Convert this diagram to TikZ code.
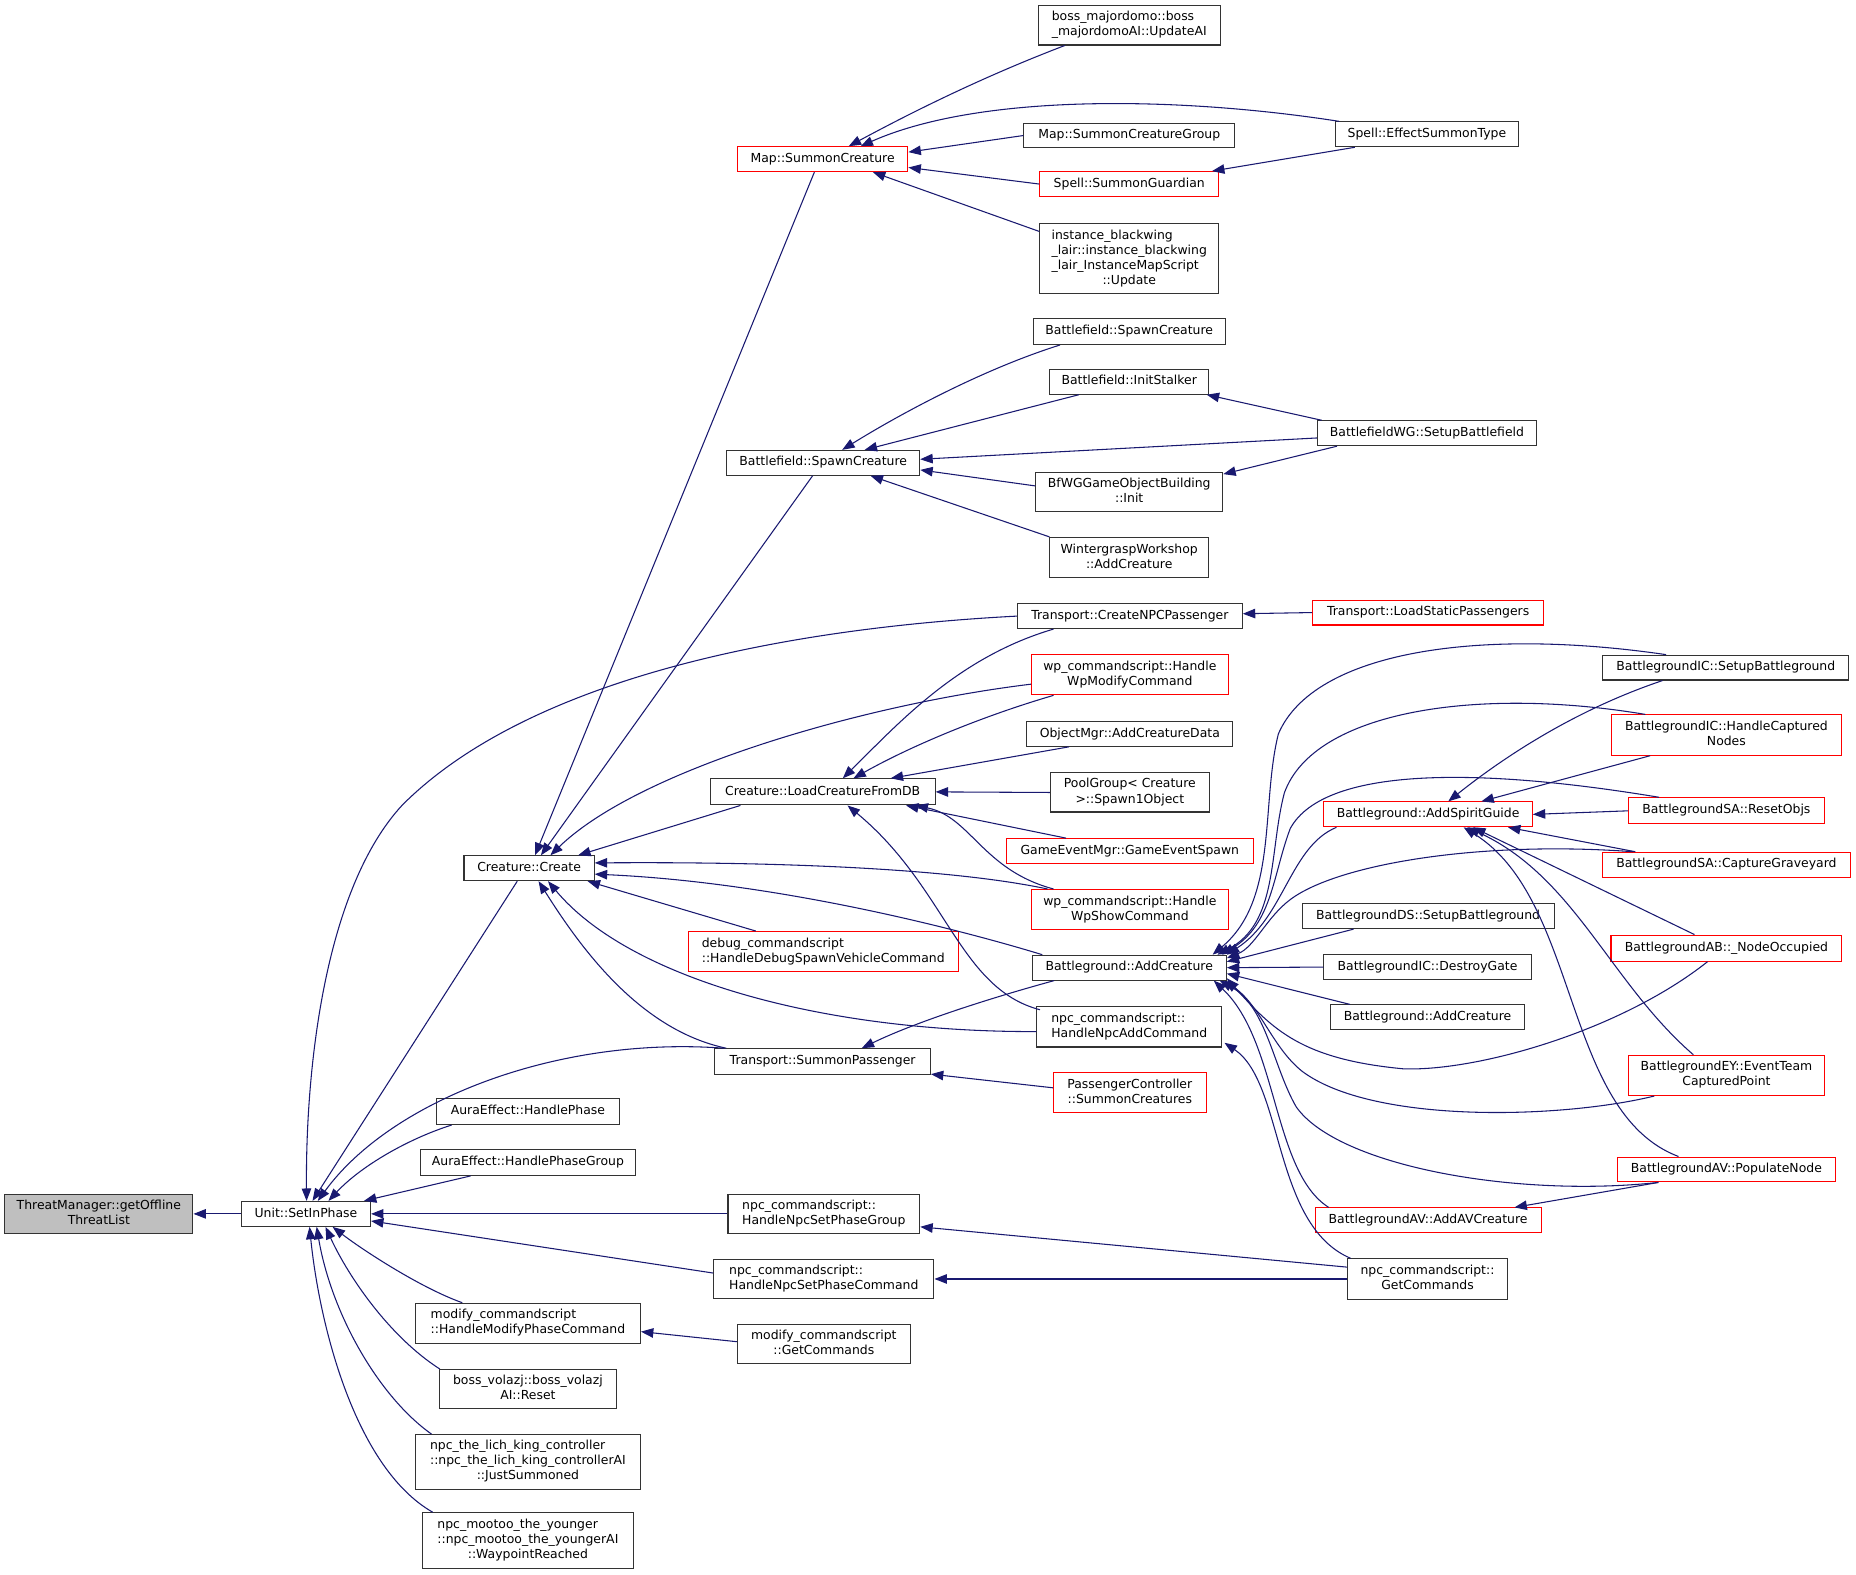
\documentclass[tikz,border=0pt]{standalone}
\usepackage{fontspec}
\setmainfont{DejaVu Sans}
\usetikzlibrary{arrows.meta,calc}
\definecolor{eb}{HTML}{191970}
\definecolor{rootgray}{HTML}{BFBFBF}
\definecolor{bord}{HTML}{333333}
\newcommand{\ml}[2]{\begin{tabular}{@{}l@{}}#1\\\multicolumn{1}{@{}c@{}}{#2}\end{tabular}}
\tikzset{
  bx/.style={draw=bord, line width=0.9pt, fill=white, inner xsep=3pt, inner ysep=2.5pt,
             font=\fontsize{10.5}{12.7}\selectfont, anchor=center},
  rb/.style={bx, draw=red},
  one/.style={text height=7.8pt, text depth=2.5pt},
  sz/.style 2 args={minimum width=#1pt, minimum height=#2pt},
  e/.style={draw=eb, line width=0.9pt, -{Triangle[length=10.5pt,width=8pt]}},
}
\begin{document}
\begin{tikzpicture}[x=1pt,y=-1pt]
\useasboundingbox (0,0) rectangle (1568,1330);
% ---- nodes
\node[bx,fill=rootgray,sz={159}{33}] (root) at (83.5,1025.5) {\ml{ThreatManager::getOffline}{ThreatList}};
\node[bx,one,sz={109}{21}] (sip) at (258.5,1025.5) {Unit::SetInPhase};
\node[rb,one,sz={144}{21}] (msc) at (695,134.5) {Map::SummonCreature};
\node[bx,sz={154}{33}] (bmj) at (954,21.5) {\ml{boss\_majordomo::boss}{\_majordomoAI::UpdateAI}};
\node[bx,one,sz={178}{21}] (mscg) at (954,114.5) {Map::SummonCreatureGroup};
\node[rb,one,sz={151}{21}] (ssg) at (954,155.5) {Spell::SummonGuardian};
\node[bx,sz={151}{59}] (ibl) at (954,218.5) {\ml{instance\_blackwing\\\_lair::instance\_blackwing\\\_lair\_InstanceMapScript}{::Update}};
\node[bx,one,sz={155}{21}] (est) at (1205.5,113.5) {Spell::EffectSummonType};
\node[bx,one,sz={162}{22}] (bsc2) at (954,280) {Battlefield::SpawnCreature};
\node[bx,one,sz={134}{21}] (bis) at (954,322.5) {Battlefield::InitStalker};
\node[bx,one,sz={185}{21}] (bwg) at (1205.5,366) {BattlefieldWG::SetupBattlefield};
\node[bx,sz={158}{33}] (bfw) at (954,415.5) {\ml{BfWGGameObjectBuilding}{::Init}};
\node[bx,sz={134}{34}] (wgw) at (954,471) {\ml{WintergraspWorkshop}{::AddCreature}};
\node[bx,one,sz={163}{21}] (bsc) at (695.5,391) {Battlefield::SpawnCreature};
\node[bx,one,sz={190}{21}] (cnp) at (954.5,520.5) {Transport::CreateNPCPassenger};
\node[rb,one,sz={195}{21}] (lsp) at (1206.5,517.5) {Transport::LoadStaticPassengers};
\node[rb,sz={166}{34}] (wpm) at (954.5,570) {\ml{wp\_commandscript::Handle}{WpModifyCommand}};
\node[bx,one,sz={174}{21}] (oma) at (954.5,620) {ObjectMgr::AddCreatureData};
\node[bx,sz={134}{33}] (pgs) at (954.5,669.5) {\ml{PoolGroup< Creature}{>::Spawn1Object}};
\node[rb,one,sz={209}{21}] (gem) at (954.5,719) {GameEventMgr::GameEventSpawn};
\node[rb,sz={166}{34}] (wps) at (954.5,768.5) {\ml{wp\_commandscript::Handle}{WpShowCommand}};
\node[bx,one,sz={190}{22}] (lcdb) at (695,669) {Creature::LoadCreatureFromDB};
\node[bx,one,sz={110}{21}] (cc) at (447,733.5) {Creature::Create};
\node[rb,sz={228}{34}] (dbg) at (695.5,804) {\ml{debug\_commandscript}{::HandleDebugSpawnVehicleCommand}};
\node[bx,one,sz={164}{21}] (bac) at (954,817.5) {Battleground::AddCreature};
\node[bx,sz={156}{34}] (nadd) at (954,867.5) {\ml{npc\_commandscript::}{HandleNpcAddCommand}};
\node[bx,one,sz={182}{22}] (tsp) at (695,897) {Transport::SummonPassenger};
\node[rb,sz={129}{34}] (pcs) at (954.5,923) {\ml{PassengerController}{::SummonCreatures}};
\node[bx,one,sz={154}{22}] (aehp) at (446,939) {AuraEffect::HandlePhase};
\node[bx,one,sz={182}{22}] (aehpg) at (446,982) {AuraEffect::HandlePhaseGroup};
\node[bx,sz={162}{33}] (nspg) at (696,1025.5) {\ml{npc\_commandscript::}{HandleNpcSetPhaseGroup}};
\node[bx,sz={186}{33}] (nspc) at (696,1080.5) {\ml{npc\_commandscript::}{HandleNpcSetPhaseCommand}};
\node[bx,sz={190}{34}] (mhpc) at (446,1118) {\ml{modify\_commandscript}{::HandleModifyPhaseCommand}};
\node[bx,sz={146}{33}] (mgc) at (696,1135.5) {\ml{modify\_commandscript}{::GetCommands}};
\node[bx,sz={150}{33}] (bvr) at (446,1173.5) {\ml{boss\_volazj::boss\_volazj}{AI::Reset}};
\node[bx,sz={190}{46}] (lkc) at (446,1235) {\ml{npc\_the\_lich\_king\_controller\\::npc\_the\_lich\_king\_controllerAI}{::JustSummoned}};
\node[bx,sz={178}{47}] (mtw) at (446,1301.5) {\ml{npc\_mootoo\_the\_younger\\::npc\_mootoo\_the\_youngerAI}{::WaypointReached}};
\node[bx,one,sz={208}{21}] (icsb) at (1458,564) {BattlegroundIC::SetupBattleground};
\node[rb,sz={194}{34}] (ichc) at (1458.5,621) {\ml{BattlegroundIC::HandleCaptured}{Nodes}};
\node[rb,one,sz={176}{21}] (asg) at (1206.5,688) {Battleground::AddSpiritGuide};
\node[rb,one,sz={165}{22}] (sar) at (1458.5,685) {BattlegroundSA::ResetObjs};
\node[rb,one,sz={209}{21}] (sacg) at (1458.5,730.5) {BattlegroundSA::CaptureGraveyard};
\node[bx,one,sz={213}{21}] (dssb) at (1206.5,774) {BattlegroundDS::SetupBattleground};
\node[rb,one,sz={195}{22}] (abno) at (1458.5,801) {BattlegroundAB::\_NodeOccupied};
\node[bx,one,sz={175}{21}] (icdg) at (1206,817) {BattlegroundIC::DestroyGate};
\node[bx,one,sz={164}{21}] (bac2) at (1206,859.5) {Battleground::AddCreature};
\node[rb,sz={165}{34}] (eyec) at (1458.5,908.5) {\ml{BattlegroundEY::EventTeam}{CapturedPoint}};
\node[rb,one,sz={184}{21}] (avpn) at (1458.5,988) {BattlegroundAV::PopulateNode};
\node[rb,one,sz={191}{21}] (avac) at (1206.5,1031) {BattlegroundAV::AddAVCreature};
\node[bx,sz={135}{34}] (ngc) at (1206,1080.5) {\ml{npc\_commandscript::}{GetCommands}};
% ---- edges into root and Unit::SetInPhase
\draw[e] (sip.west) -- (root.east);
\draw[e] ($(cc.south)+(-10,0)$) -- ($(sip.north)+(5.5,0)$);
\draw[e] (cnp.west) .. controls (640,532) and (440,580) .. (340,680) .. controls (275,750) and (258,900) .. ($(sip.north)+(0.5,0)$);
\draw[e] ($(tsp.north west)+(8,0)$) .. controls (470,875) and (330,930) .. ($(sip.north)+(10,0)$);
\draw[e] ($(aehp.south west)+(13,0)$) .. controls (345,962) and (305,985) .. ($(sip.north)+(19,0)$);
\draw[e] ($(aehpg.south west)+(43,0)$) -- ($(sip.north east)+(-6,0)$);
\draw[e] (nspg.west) -- (sip.east);
\draw[e] ($(nspc.west)+(0,-5)$) -- ($(sip.east)+(0,6)$);
\draw[e] ($(mhpc.north west)+(40,0)$) .. controls (355,1088) and (305,1055) .. ($(sip.south)+(22.5,0)$);
\draw[e] ($(bvr.north west)+(1,0)$) .. controls (330,1130) and (295,1080) .. ($(sip.south)+(16.5,0)$);
\draw[e] ($(lkc.north west)+(14,0)$) .. controls (320,1180) and (280,1110) .. ($(sip.south)+(9,0)$);
\draw[e] ($(mtw.north west)+(9,0)$) .. controls (300,1240) and (270,1120) .. ($(sip.south)+(3,0)$);
% ---- into Creature::Create
\draw[e] ($(msc.south)+(-7,0)$) -- ($(cc.north)+(5,0)$);
\draw[e] ($(bsc.south)+(-9,0)$) -- ($(cc.north)+(10,0)$);
\draw[e] ($(wpm.west)+(0,8)$) .. controls (730,595) and (540,650) .. ($(cc.north)+(18,0)$);
\draw[e] ($(lcdb.south west)+(26,0)$) -- ($(cc.north east)+(-14,0)$);
\draw[e] ($(wps.north west)+(14,0)$) .. controls (800,733) and (650,728) .. ($(cc.east)+(0,-4.5)$);
\draw[e] ($(bac.north west)+(9,0)$) .. controls (800,782) and (650,745) .. ($(cc.east)+(0,5)$);
\draw[e] ($(dbg.north)+(-57,0)$) -- ($(cc.south east)+(-6,0)$);
\draw[e] ($(nadd.west)+(0,4)$) .. controls (690,872) and (530,825) .. ($(cc.south)+(16,0)$);
\draw[e] ($(tsp.north west)+(10,0)$) .. controls (540,870) and (490,800) .. ($(cc.south)+(8,0)$);
% ---- into Map::SummonCreature
\draw[e] ($(bmj.south west)+(23,0)$) .. controls (830,65) and (770,95) .. ($(msc.north)+(22,0)$);
\draw[e] ($(est.north west)+(4,0)$) .. controls (1000,82) and (830,78) .. ($(msc.north)+(32,0)$);
\draw[e] (mscg.west) -- ($(msc.east)+(0,-6)$);
\draw[e] (ssg.west) -- ($(msc.east)+(0,7)$);
\draw[e] ($(ibl.north west)+(0,7)$) -- ($(msc.south east)+(-30,0)$);
\draw[e] ($(est.south west)+(17,0)$) -- ($(ssg.north east)+(-6,0)$);
% ---- into Battlefield::SpawnCreature
\draw[e] ($(bsc2.south west)+(23,0)$) .. controls (830,312) and (760,350) .. ($(bsc.north)+(16,0)$);
\draw[e] ($(bis.south west)+(25,0)$) -- ($(bsc.north)+(35,0)$);
\draw[e] ($(bwg.west)+(0,4)$) -- ($(bsc.east)+(0,-3)$);
\draw[e] ($(bfw.west)+(0,-5)$) -- ($(bsc.east)+(0,6)$);
\draw[e] (wgw.north west) -- ($(bsc.south east)+(-42,0)$);
\draw[e] ($(bwg.north west)+(4,0)$) -- ($(bis.south east)+(-2,0)$);
\draw[e] ($(bwg.south west)+(17,0)$) -- ($(bfw.north east)+(0,2)$);
\draw[e] (lsp.west) -- ($(cnp.east)+(0,-2)$);
% ---- into Creature::LoadCreatureFromDB
\draw[e] ($(cnp.south west)+(31,0)$) .. controls (810,555) and (760,610) .. ($(lcdb.north)+(17,0)$);
\draw[e] ($(wpm.south west)+(19,0)$) .. controls (830,605) and (770,630) .. ($(lcdb.north)+(26,0)$);
\draw[e] ($(oma.south west)+(36,0)$) -- ($(lcdb.north east)+(-38,0)$);
\draw[e] (pgs.west) -- (lcdb.east);
\draw[e] ($(gem.north west)+(51,0)$) -- ($(lcdb.south east)+(-25,0)$);
\draw[e] ($(wps.north west)+(19,0)$) .. controls (830,735) and (820,690) .. ($(lcdb.south east)+(-17,0)$);
\draw[e] ($(nadd.north west)+(3,3)$) .. controls (810,835) and (800,750) .. ($(lcdb.south)+(21,0)$);
% ---- misc
\draw[e] ($(bac.south west)+(19,0)$) .. controls (830,845) and (770,865) .. ($(tsp.north)+(33,0)$);
\draw[e] ($(pcs.west)+(0,-4)$) -- ($(tsp.south east)+(0,-1)$);
\draw[e] ($(mgc.west)+(0,-2)$) -- ($(mhpc.east)+(0,7)$);
\draw[e] ($(ngc.west)+(0,-10)$) -- ($(nspg.south east)+(0,-6)$);
\draw[e] (ngc.west) -- (nspc.east);
\draw[e] ($(ngc.north west)+(3,0)$) .. controls (1075,1035) and (1085,915) .. ($(nadd.south east)+(2,-4)$);
% ---- into Battleground::AddCreature
\draw[e] ($(icsb.north west)+(54,0)$) .. controls (1250,530) and (1110,550) .. (1080,620) .. controls (1065,680) and (1080,760) .. ($(bac.north east)+(-12,0)$);
\draw[e] ($(ichc.north west)+(29,0)$) .. controls (1250,580) and (1110,600) .. (1085,670) .. controls (1072,720) and (1080,780) .. ($(bac.north east)+(-8,0)$);
\draw[e] ($(sar.north west)+(26,0)$) .. controls (1260,650) and (1120,645) .. (1090,700) .. controls (1075,740) and (1075,780) .. ($(bac.north east)+(-4,0)$);
\draw[e] ($(asg.south west)+(11,0)$) .. controls (1090,715) and (1085,775) .. (bac.north east);
\draw[e] ($(sacg.north west)+(26,0)$) .. controls (1250,710) and (1130,730) .. (1090,760) .. controls (1070,775) and (1060,800) .. ($(bac.east)+(0,-8)$);
\draw[e] ($(dssb.south west)+(44,0)$) -- ($(bac.east)+(0,-5)$);
\draw[e] (icdg.west) -- (bac.east);
\draw[e] ($(bac2.north west)+(17,0)$) -- ($(bac.east)+(0,5)$);
\draw[e] ($(abno.south west)+(82,0)$) .. controls (1370,870) and (1250,905) .. (1186,903) .. controls (1100,895) and (1075,870) .. ($(bac.south east)+(0,-2)$);
\draw[e] ($(eyec.south west)+(22,0)$) .. controls (1320,945) and (1160,950) .. (1100,905) .. controls (1075,885) and (1065,850) .. ($(bac.south east)+(-2,0)$);
\draw[e] ($(avpn.south west)+(35,0)$) .. controls (1280,1012) and (1130,985) .. (1095,935) .. controls (1075,900) and (1070,850) .. ($(bac.south east)+(-6,0)$);
\draw[e] ($(avac.north west)+(12,0)$) .. controls (1075,990) and (1080,880) .. ($(bac.south east)+(-11,0)$);
% ---- into Battleground::AddSpiritGuide
\draw[e] ($(icsb.south west)+(51,0)$) .. controls (1330,600) and (1270,640) .. ($(asg.north)+(17,0)$);
\draw[e] ($(ichc.south west)+(33,0)$) -- ($(asg.north)+(45,0)$);
\draw[e] (sar.west) -- (asg.east);
\draw[e] ($(sacg.north west)+(28,0)$) -- ($(asg.south east)+(-21,0)$);
\draw[e] ($(abno.north west)+(71,0)$) -- ($(asg.south)+(38,0)$);
\draw[e] ($(eyec.north west)+(55,0)$) .. controls (1360,830) and (1330,740) .. ($(asg.south)+(33,0)$);
\draw[e] ($(avpn.north west)+(52,0)$) .. controls (1320,940) and (1335,760) .. ($(asg.south)+(30,0)$);
\draw[e] ($(avpn.south west)+(35,0)$) -- ($(avac.north east)+(-23,0)$);
\end{tikzpicture}
\end{document}
